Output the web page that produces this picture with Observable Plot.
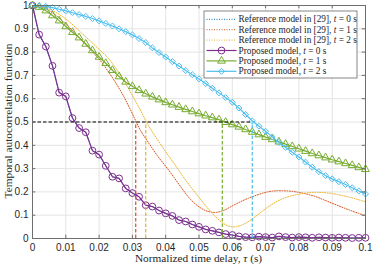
<!DOCTYPE html>
<html>
<head>
<meta charset="utf-8">
<script src="https://cdn.jsdelivr.net/npm/d3@7"></script>
<script src="https://cdn.jsdelivr.net/npm/@observablehq/plot@0.6"></script>
<style>
  body { margin: 0; background: #fff; }
</style>
</head>
<body>
<div id="chart"></div>
<script>
// ---- data ----
const tauP = [0,0.002,0.004,0.006,0.008,0.010,0.012,0.014,0.016,0.018,0.020,0.022,0.024,0.026,0.028,0.030,0.032,0.034,0.036,0.038,0.040,0.042,0.044,0.046,0.048,0.050,0.052,0.054,0.056,0.058,0.060,0.062,0.064,0.066,0.068,0.070,0.072,0.074,0.076,0.078,0.080,0.082,0.084,0.086,0.088,0.090,0.092,0.094,0.096,0.098,0.100];
const propT0 = [1.000,0.875,0.824,0.741,0.626,0.610,0.517,0.474,0.456,0.377,0.360,0.312,0.265,0.258,0.215,0.195,0.179,0.143,0.137,0.120,0.108,0.097,0.079,0.073,0.060,0.050,0.039,0.033,0.026,0.019,0.015,0.009,0.006,0.005,0.008,0.006,0.004,0.009,0.006,0.004,0.006,0.005,0.003,0.005,0.004,0.003,0.004,0.003,0.002,0.003,0.003];
const propT1 = [1.000,0.993,0.978,0.957,0.935,0.910,0.885,0.862,0.835,0.807,0.779,0.752,0.722,0.695,0.672,0.653,0.636,0.621,0.608,0.596,0.584,0.574,0.564,0.554,0.545,0.536,0.527,0.519,0.510,0.499,0.489,0.479,0.468,0.457,0.446,0.435,0.425,0.415,0.405,0.395,0.385,0.375,0.365,0.356,0.347,0.338,0.330,0.322,0.314,0.305,0.297];
const propT2 = [1.000,0.999,0.996,0.991,0.984,0.977,0.969,0.961,0.953,0.944,0.934,0.923,0.912,0.900,0.888,0.874,0.858,0.841,0.818,0.798,0.779,0.759,0.740,0.721,0.703,0.685,0.665,0.645,0.625,0.605,0.585,0.560,0.532,0.505,0.482,0.460,0.436,0.412,0.391,0.370,0.350,0.328,0.306,0.287,0.270,0.256,0.244,0.232,0.218,0.204,0.191];

const tauR = [0,0.0025,0.005,0.0075,0.010,0.0125,0.015,0.0175,0.020,0.0225,0.025,0.0275,0.030,0.0325,0.035,0.0375,0.040,0.0425,0.045,0.0475,0.050,0.0525,0.055,0.0575,0.060,0.0625,0.065,0.0675,0.070,0.0725,0.075,0.0775,0.080,0.0825,0.085,0.0875,0.090,0.0925,0.095,0.0975,0.100];
const refT0 = propT0; // reference at t = 0 coincides with the proposed curve (hidden beneath it)
const refT1 = [1.000,0.995,0.978,0.952,0.920,0.885,0.848,0.808,0.770,0.722,0.668,0.607,0.535,0.462,0.408,0.355,0.310,0.262,0.212,0.167,0.136,0.117,0.112,0.121,0.140,0.158,0.174,0.187,0.198,0.204,0.205,0.203,0.198,0.190,0.180,0.166,0.151,0.137,0.123,0.110,0.098];
const refT2 = [1.000,0.997,0.985,0.966,0.942,0.912,0.878,0.846,0.812,0.778,0.731,0.676,0.614,0.548,0.480,0.425,0.372,0.322,0.270,0.222,0.176,0.132,0.093,0.063,0.050,0.056,0.074,0.100,0.128,0.152,0.170,0.182,0.190,0.196,0.198,0.197,0.193,0.186,0.178,0.168,0.158];

const halfLevel = 0.5;
const halfTau = [0.031, 0.034, 0.057, 0.066];

const xTicks = [0,0.01,0.02,0.03,0.04,0.05,0.06,0.07,0.08,0.09,0.1];
const yTicks = [0,0.1,0.2,0.3,0.4,0.5,0.6,0.7,0.8,0.9,1];

const C = {
  blue: "#0072BD", red: "#D95319", yellow: "#EDB120",
  purple: "#7E2F8E", green: "#77AC30", cyan: "#4DBEEE"
};
const halfColors = [C.red, C.yellow, C.green, C.cyan];

const legendItems = [
  {pre: "Reference model in [29], ", post: " = 0 s", color: C.blue, dash: "1,1.5", symbol: null},
  {pre: "Reference model in [29], ", post: " = 1 s", color: C.red, dash: "1,1.5", symbol: null},
  {pre: "Reference model in [29], ", post: " = 2 s", color: C.yellow, dash: "1,1.5", symbol: null},
  {pre: "Proposed model, ", post: " = 0 s", color: C.purple, dash: null, symbol: "circle"},
  {pre: "Proposed model, ", post: " = 1 s", color: C.green, dash: null, symbol: "triangle"},
  {pre: "Proposed model, ", post: " = 2 s", color: C.cyan, dash: null, symbol: "diamond2"}
];

// ---- tables ----
const rows = (xs, ys) => xs.map((x, i) => ({x, y: ys[i]}));
const dP0 = rows(tauP, propT0), dP1 = rows(tauP, propT1), dP2 = rows(tauP, propT2);
const dR0 = rows(tauP, refT0), dR1 = rows(tauR, refT1), dR2 = rows(tauR, refT2);

const dotted = "1,1.5";
const dashed = "3.5,2";
const rCircle = 3.4, rTri = 2.9, rDia = 2.7;

const marks = [
  Plot.ruleX(xTicks, {stroke: "#e4e4e4", strokeWidth: 1}),
  Plot.ruleY(yTicks, {stroke: "#e4e4e4", strokeWidth: 1}),
  Plot.line(dR0, {x: "x", y: "y", stroke: C.blue, strokeWidth: 1, strokeDasharray: dotted}),
  Plot.line(dR1, {x: "x", y: "y", stroke: C.red, strokeWidth: 1, strokeDasharray: dotted, curve: "catmull-rom"}),
  Plot.line(dR2, {x: "x", y: "y", stroke: C.yellow, strokeWidth: 1, strokeDasharray: dotted, curve: "catmull-rom"}),
  Plot.line(dP0, {x: "x", y: "y", stroke: C.purple, strokeWidth: 1.2}),
  Plot.dot(dP0, {x: "x", y: "y", stroke: C.purple, r: rCircle, symbol: "circle", strokeWidth: 1}),
  Plot.line(dP1, {x: "x", y: "y", stroke: C.green, strokeWidth: 1.2}),
  Plot.dot(dP1, {x: "x", y: "y", stroke: C.green, r: rTri, symbol: "triangle", strokeWidth: 1}),
  Plot.line(dP2, {x: "x", y: "y", stroke: C.cyan, strokeWidth: 1.2}),
  Plot.dot(dP2, {x: "x", y: "y", stroke: C.cyan, r: rDia, symbol: "diamond2", strokeWidth: 1}),
  ...halfTau.map((t, i) => Plot.ruleX([t], {y1: 0, y2: halfLevel, stroke: halfColors[i], strokeWidth: 1.2, strokeDasharray: dashed})),
  Plot.ruleY([halfLevel], {x1: 0, x2: halfTau[3], stroke: "#000", strokeWidth: 1.2, strokeDasharray: dashed}),
  Plot.frame({stroke: "#6e6e6e", strokeWidth: 1}),
  Plot.ruleX(xTicks, {y1: 0, y2: 0.014, stroke: "#6e6e6e"}),
  Plot.ruleX(xTicks, {y1: 1, y2: 0.986, stroke: "#6e6e6e"}),
  Plot.ruleY(yTicks, {x1: 0, x2: 0.001, stroke: "#6e6e6e"}),
  Plot.ruleY(yTicks, {x1: 0.1, x2: 0.099, stroke: "#6e6e6e"}),
  Plot.axisX(xTicks, {anchor: "bottom", tickSize: 0, tickPadding: 5, tickFormat: d3.format("~g"), label: null}),
  Plot.axisY(yTicks, {anchor: "left", tickSize: 0, tickPadding: 4, tickFormat: d3.format("~g"), label: null})
];

const svg = Plot.plot({
  width: 374,
  height: 267,
  marginLeft: 32,
  marginRight: 9,
  marginTop: 5,
  marginBottom: 29,
  x: {domain: [0, 0.1]},
  y: {domain: [0, 1]},
  style: {fontFamily: "'Liberation Sans', Arial, sans-serif", fontSize: "10px", color: "#262626", background: "#fff", overflow: "visible"},
  marks
});
document.getElementById("chart").appendChild(svg);

// ---- axis titles & legend ----
const S = d3.select(svg);
const serif = "'Liberation Serif', 'Times New Roman', serif";

const xl = S.append("text")
  .attr("x", 198.5).attr("y", 262)
  .attr("text-anchor", "middle")
  .attr("font-family", serif).attr("font-size", "11.3px").attr("fill", "#262626");
xl.append("tspan").text("Normalized time delay, ");
xl.append("tspan").attr("font-style", "italic").text("τ");
xl.append("tspan").text(" (s)");

S.append("text")
  .attr("transform", "translate(8.5,121) rotate(-90)")
  .attr("text-anchor", "middle").attr("dy", "0.35em")
  .attr("font-family", serif).attr("font-size", "11.3px").attr("fill", "#262626")
  .text("Temporal autocorrelation function");

const lg = S.append("g").attr("text-anchor", "start");
lg.append("rect").attr("x", 204).attr("y", 11).attr("width", 153).attr("height", 67)
  .attr("fill", "#fff").attr("stroke", "#555").attr("stroke-width", 0.7);
const symMap = {circle: [d3.symbolCircle, rCircle], triangle: [d3.symbolTriangle, rTri], diamond2: [d3.symbolDiamond2, rDia]};
legendItems.forEach((it, i) => {
  const y = 19.3 + i * 10.4;
  lg.append("line").attr("x1", 206.5).attr("x2", 236.5).attr("y1", y).attr("y2", y)
    .attr("stroke", it.color).attr("stroke-width", it.dash ? 1 : 1.2)
    .attr("stroke-dasharray", it.dash || null);
  if (it.symbol) {
    const [sym, r] = symMap[it.symbol];
    lg.append("path").attr("d", d3.symbol(sym, Math.PI * r * r)())
      .attr("transform", `translate(221.5,${y})`)
      .attr("fill", "none").attr("stroke", it.color).attr("stroke-width", 1);
  }
  const t = lg.append("text").attr("x", 238.5).attr("y", y + 3.1)
    .attr("text-anchor", "start")
    .attr("font-family", serif).attr("font-size", "9.3px").attr("fill", "#262626");
  t.append("tspan").text(it.pre);
  t.append("tspan").attr("font-style", "italic").text("t");
  t.append("tspan").text(it.post);
});
</script>
</body>
</html>
